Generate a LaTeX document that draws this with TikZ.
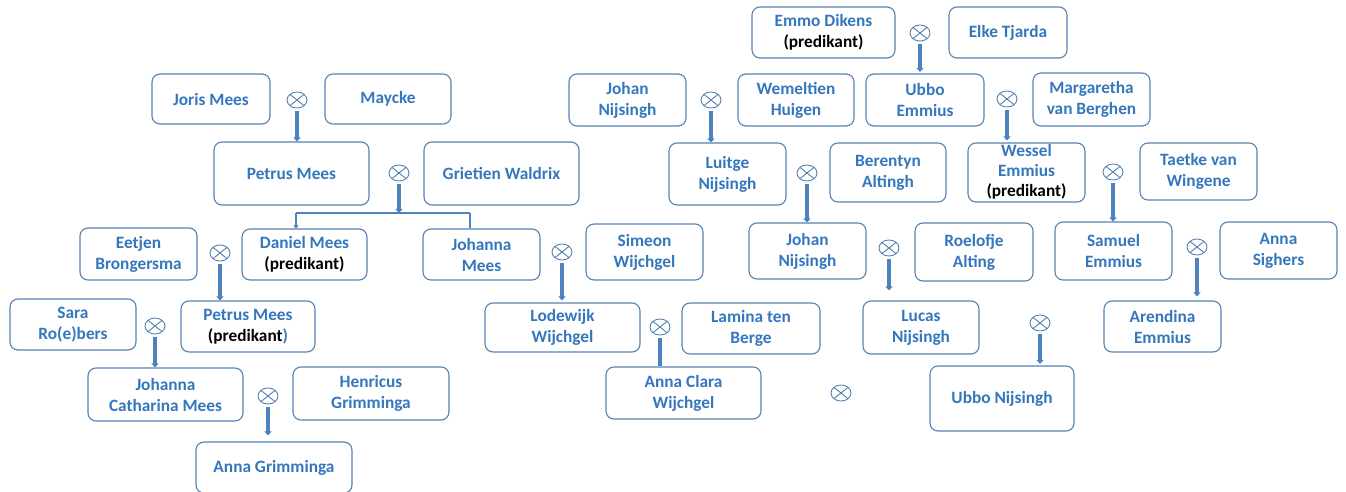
\documentclass[tikz,border=0pt]{standalone}
\usepackage{fontspec}
\setmainfont{Carlito}
\usetikzlibrary{arrows.meta,shapes.geometric}
\definecolor{txtblue}{RGB}{52,119,189}
\definecolor{boxblue}{RGB}{84,130,178}
\definecolor{arrblue}{RGB}{77,130,190}
\tikzset{
  pbox/.style={draw=boxblue, line width=1.1bp, rounded corners=8bp, inner sep=0pt, fill=white},
  ptxt/.style={inner sep=0pt, align=center, text=txtblue, font=\fontsize{17.3bp}{21bp}\selectfont\bfseries},
  marker/.style={ellipse, draw=boxblue, line width=0.9bp, minimum width=20bp, minimum height=16bp, inner sep=0pt,
    path picture={\draw[boxblue, line width=0.9bp] (path picture bounding box.north west) -- (path picture bounding box.south east)
      (path picture bounding box.north east) -- (path picture bounding box.south west);}},
  desc/.style={draw=arrblue, line width=3.2bp, -{Triangle[width=7bp,length=4bp]}, shorten <=2.5bp},
  plainline/.style={draw=arrblue, line width=3.2bp, shorten <=2.5bp},
  thinline/.style={draw=arrblue, line width=2bp},
}
\newcommand\pers[5]{\node[pbox, minimum width=#3bp, minimum height=#4bp] (#1) at (#2) {};
  \node[ptxt] (#1-t) at (#1) {#5};}
\newcommand\pred{{\color{black}(predikant)}}
\begin{document}
\begin{tikzpicture}[x=1bp,y=-1bp]
\useasboundingbox (0,0) rectangle (1346,492);
% persons
\pers{joris}{211,99}{118}{50}{Joris Mees}
\pers{maycke}{388,99}{126}{50}{Maycke}
\pers{petrus}{291.5,173.5}{155}{63}{Petrus Mees}
\pers{grietien}{501.5,173.5}{155}{63}{Grietien Waldrix}
\pers{eetjen}{138.5,254}{117}{52}{Eetjen\\Brongersma}
\pers{daniel}{304.5,254.5}{125}{51}{Daniel Mees\\\pred}
\pers{johanna}{481.5,254.5}{117}{51}{Johanna\\Mees}
\pers{sara}{73,324.5}{126}{51}{Sara\\Ro(e)bers}
\pers{petrustwo}{248,326.5}{134}{51}{Petrus Mees\\{\color{black}(predikant})}
\pers{jcmees}{165.5,394.5}{155}{53}{Johanna\\Catharina Mees}
\pers{henricus}{371,393.5}{156}{53}{Henricus\\Grimminga}
\pers{annag}{274,467.5}{156}{51}{Anna Grimminga}
\pers{emmo}{823.5,32.5}{143}{51}{Emmo Dikens\\\pred}
\pers{elke}{1008,32.5}{118}{51}{Elke Tjarda}
\pers{johanone}{627.5,100}{117}{52}{Johan\\Nijsingh}
\pers{wemeltien}{796,100}{116}{52}{Wemeltien\\Huigen}
\pers{ubboe}{925,100}{118}{52}{Ubbo\\Emmius}
\pers{margaretha}{1091.5,99.5}{117}{53}{Margaretha\\van Berghen}
\pers{luitge}{727.5,174}{117}{62}{Luitge\\Nijsingh}
\pers{berentyn}{888,172.5}{116}{59}{Berentyn\\Altingh}
\node[pbox, minimum width=117bp, minimum height=59bp] (wessel) at (1026.5,172.5) {};
\node[ptxt, font=\fontsize{17.3bp}{20bp}\selectfont\bfseries] (wessel-t) at (1026.5,172) {Wessel\\Emmius\\\pred};
\pers{taetke}{1198.5,171.5}{117}{57}{Taetke van\\Wingene}
\pers{simeon}{644.5,252}{117}{56}{Simeon\\Wijchgel}
\pers{johantwo}{807.5,251}{117}{56}{Johan\\Nijsingh}
\pers{roelofje}{974,252}{118}{58}{Roelofje\\Alting}
\pers{samuel}{1113.5,251}{117}{58}{Samuel\\Emmius}
\pers{annas}{1278.5,250.5}{117}{57}{Anna\\Sighers}
\pers{lodewijk}{562.5,327.5}{155}{49}{Lodewijk\\Wijchgel}
\pers{lamina}{751,328.5}{138}{51}{Lamina ten\\Berge}
\pers{lucas}{921,327.5}{116}{53}{Lucas\\Nijsingh}
\pers{arendina}{1162.5,326.5}{117}{51}{Arendina\\Emmius}
\pers{annaclara}{683.5,393}{155}{52}{Anna Clara\\Wijchgel}
\pers{ubbon}{1002,398.5}{144}{65}{Ubbo Nijsingh}
% marriage markers
\node[marker] (mA) at (297,100) {};
\node[marker] (mB) at (399,173) {};
\node[marker] (mC) at (220,253) {};
\node[marker] (mD) at (155,326) {};
\node[marker] (mE) at (268,396) {};
\node[marker] (mF) at (920,33) {};
\node[marker] (mG) at (711,100) {};
\node[marker] (mH) at (1007,99) {};
\node[marker] (mI) at (807,173) {};
\node[marker] (mJ) at (1113,172) {};
\node[marker] (mK) at (562,252) {};
\node[marker] (mL) at (889,248) {};
\node[marker] (mM) at (1197,247) {};
\node[marker] (mN) at (660,327) {};
\node[marker] (mO) at (1040,323) {};
\node[marker] (mP) at (841,393) {};
% descent connectors
\draw[desc] (mA.south) -- (mA.south |- petrus.north);
\coordinate (split) at (399,213);
\coordinate (splitL) at (296,213);
\coordinate (splitR) at (470,213);
\draw[thinline] (splitL) -- (splitR);
\draw[desc] (mB.south) -- (split);
\draw[thinline, -{Triangle[width=5bp,length=3bp]}] (splitL) -- (splitL |- daniel.north);
\draw[thinline] (splitR) -- (splitR |- johanna.north);
\draw[desc] (mC.south) -- (mC.south |- petrustwo.north);
\draw[desc] (mD.south) -- (mD.south |- jcmees.north);
\draw[desc, shorten >=6bp] (mE.south) -- (mE.south |- annag.north);
\draw[desc] (mF.south) -- ([yshift=1.5bp]mF.south |- ubboe.north);
\draw[desc] (mG.south) -- (mG.south |- luitge.north);
\draw[desc] (mH.south) -- ([yshift=2bp]mH.south |- wessel.north);
\draw[desc] (mI.south) -- (mI.south |- johantwo.north);
\draw[desc] (mJ.south) -- (mJ.south |- samuel.north);
\draw[desc] (mK.south) -- ([yshift=2bp]mK.south |- lodewijk.north);
\draw[desc, shorten >=10bp] (mL.south) -- (mL.south |- lucas.north);
\draw[desc, shorten >=4bp] (mM.south) -- (mM.south |- arendina.north);
\draw[plainline] (mN.south) -- (mN.south |- annaclara.north);
\draw[desc] (mO.south) -- ([yshift=1.5bp]mO.south |- ubbon.north);
\end{tikzpicture}
\end{document}
